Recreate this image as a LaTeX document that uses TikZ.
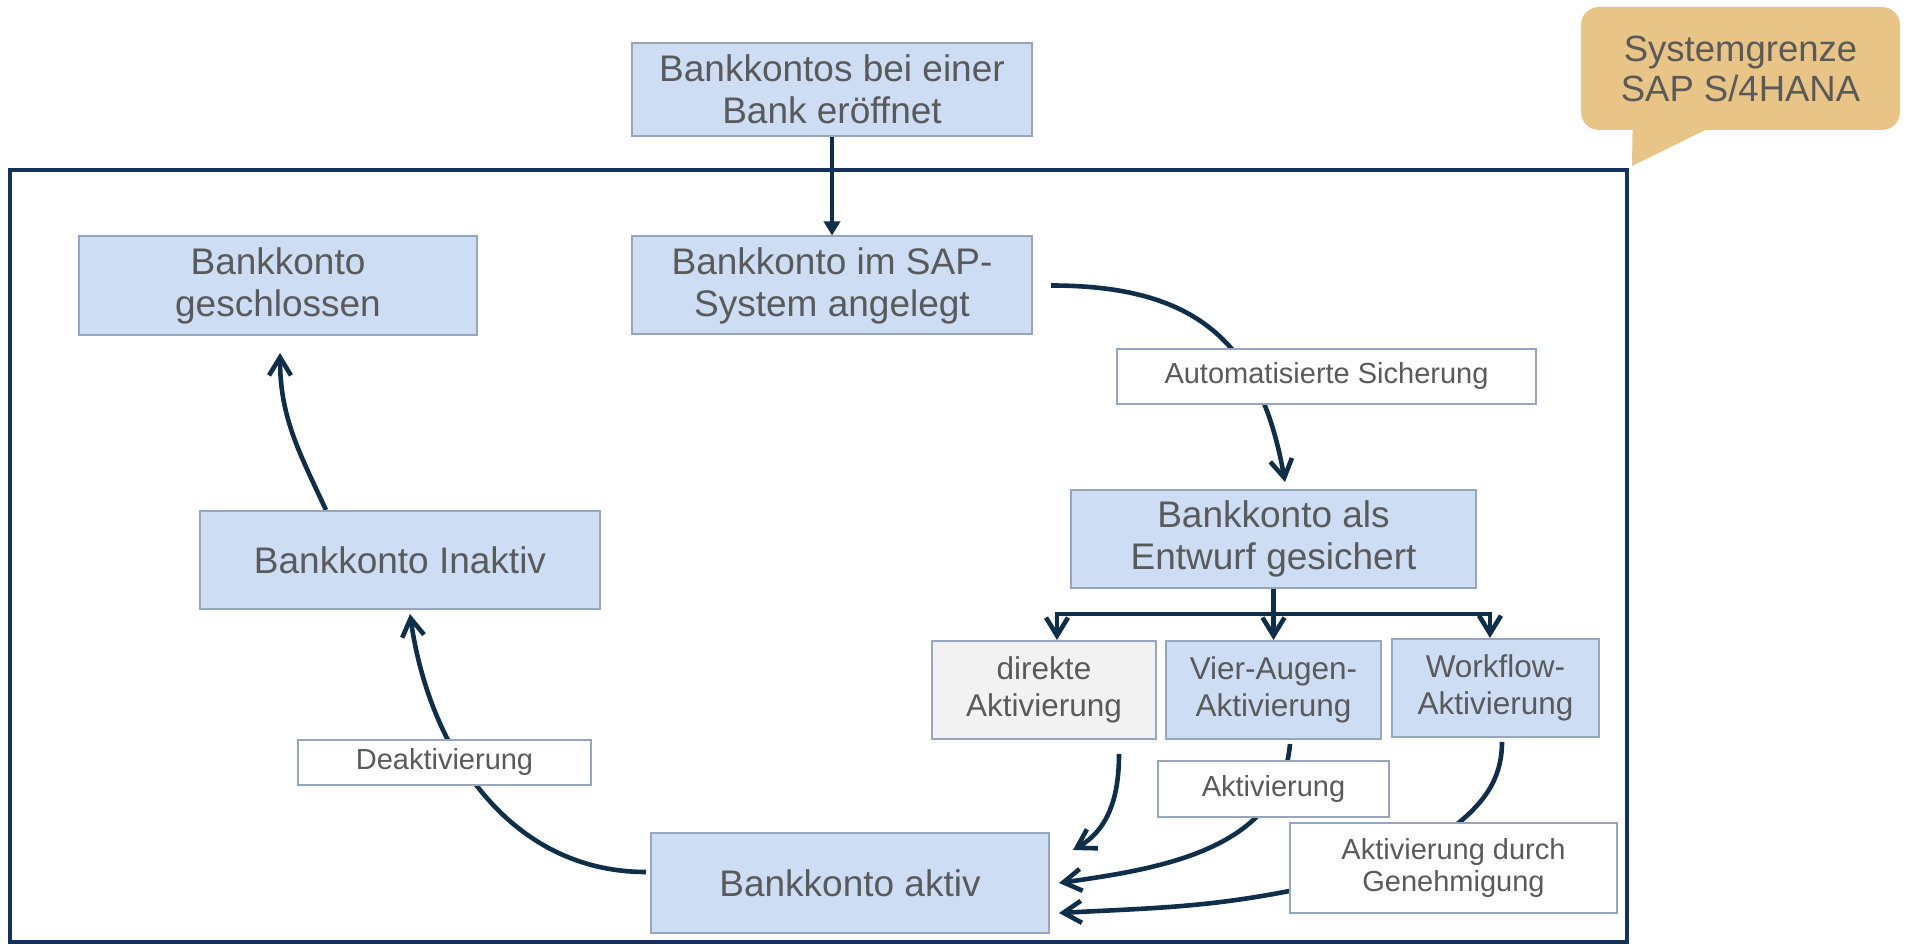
\documentclass[tikz,border=0pt]{standalone}
\usepackage{fontspec}
\setmainfont{Liberation Sans}
\usetikzlibrary{arrows.meta,positioning,backgrounds}

\definecolor{boxblue}{HTML}{CCDDF4}
\definecolor{boxedge}{HTML}{97A6BF}
\definecolor{boxgray}{HTML}{F2F2F2}
\definecolor{txtgray}{HTML}{5A5A5A}
\definecolor{arrownavy}{HTML}{0F2E4A}
\definecolor{framenavy}{HTML}{13335E}
\definecolor{calloutsand}{HTML}{E8C486}

\begin{document}
\begin{tikzpicture}[x=0.5pt,y=-0.5pt,node distance=98pt,
    state/.style={rectangle,draw=boxedge,line width=1pt,fill=boxblue,text=txtgray,align=center,inner sep=0pt,font=\fontsize{18.5}{21}\selectfont},
    choice/.style={state,font=\fontsize{15.75}{18.3}\selectfont},
    tag/.style={state,fill=white,font=\fontsize{14.5}{16}\selectfont},
    flow/.style={draw=arrownavy,line width=2.3pt,-{Straight Barb[length=9pt,width=11pt]}}]

            \useasboundingbox (0,0) rectangle (1908,946);

            \node[draw=framenavy, line width=2pt, minimum width=808.5pt, minimum height=386pt] (frame) at (818.5,556) {};

            \node[state, minimum width=200pt, minimum height=46.5pt] (bank) at (832,89.5) {Bankkontos bei einer\\Bank eröffnet};
            \node[state, minimum width=200pt, minimum height=49pt] (sap) [below of=bank] {Bankkonto im SAP-\\System angelegt};
            \node[state, minimum width=199pt, minimum height=49.5pt] (closed) [left of=sap, xshift=-179] {Bankkonto\\geschlossen};
            \node[state, minimum width=200pt, minimum height=49pt] (inactive) [below of=closed, xshift=61, yshift=-39.25] {Bankkonto Inaktiv};
            \node[state, minimum width=202.5pt, minimum height=49pt] (draft) [below of=sap, xshift=220.75, yshift=-28.75] {Bankkonto als\\Entwurf gesichert};

            \node[choice, minimum width=107.5pt, minimum height=49pt] (four) [below of=draft, yshift=22.5] {Vier-Augen-\\Aktivierung};
            \node[choice, fill=boxgray, minimum width=112pt, minimum height=49pt] (direct) [left of=four, xshift=-16.75] {direkte\\Aktivierung};
            \node[choice, minimum width=103.5pt, minimum height=49pt] (workflow) [right of=four, xshift=13, yshift=1] {Workflow-\\Aktivierung};

            \node[state, minimum width=199pt, minimum height=50pt] (active) [below of=inactive, xshift=225, yshift=-63.5] {Bankkonto aktiv};

            \node[tag, minimum width=209.5pt, minimum height=27.5pt] (lblsave) [right of=sap, xshift=149.25, yshift=-45.5] {Automatisierte Sicherung};
            \node[tag, minimum width=146.5pt, minimum height=22.5pt] (lbldeact) [below of=inactive, xshift=22.25, yshift=-3.25] {Deaktivierung};
            \node[tag, minimum width=115.5pt, minimum height=28pt] (lblact) [below of=four, yshift=48.5] {Aktivierung};
            \node[tag, minimum width=163.5pt, minimum height=45pt] (lblappr) [below of=workflow, xshift=-21, yshift=8] {Aktivierung durch\\Genehmigung};

            \node[fill=calloutsand, rounded corners=9pt, text=txtgray, align=center, minimum width=159.5pt, minimum height=61.5pt, font=\fontsize{18.25}{20}\selectfont] (callout) at (1740.5,68.5) {Systemgrenze\\SAP S/4HANA};
            \fill[calloutsand] ([xshift=26pt,yshift=2pt]callout.south west) -- ([xshift=1.5pt,yshift=1pt]frame.north east) -- ([xshift=66pt,yshift=2pt]callout.south west) -- cycle;

            % connectors go behind the label boxes
            \begin{pgfonlayer}{background}
            \draw[draw=arrownavy, line width=1.7pt, -{Triangle[length=7pt,width=8pt]}] (bank) -- (sap);

            \draw[flow] ([xshift=9pt]sap.east) to[out=0, in=100, looseness=1.2] ([xshift=5.75pt,yshift=3.5pt]draft.north);
            \draw[flow] ([xshift=-37pt]inactive.north) to[out=115, in=-90] ([xshift=1pt,yshift=-8.5pt]closed.south);
            \draw[flow] ([xshift=-2pt,yshift=5.5pt]active.west) to[out=180, in=-82] ([xshift=5pt,yshift=-2pt]inactive.south);

            \draw[flow, -] (draft.south) -- ++(0,25) coordinate (split);
            \draw[flow] (split) -| ([xshift=6.5pt]direct.north);
            \draw[flow] (split) -- (four.north);
            \draw[flow] (split) -| ([xshift=-2.75pt]workflow.north);

            \draw[flow] ([xshift=37.5pt,yshift=-7pt]direct.south) to[out=-90, in=30] ([xshift=11.5pt,yshift=16.5pt]active.east);
            \draw[flow] ([xshift=8.25pt,yshift=-2pt]four.south) to[out=-95, in=8] ([xshift=4.5pt]active.east);
            \draw[flow, -] ([xshift=3.25pt,yshift=-2pt]workflow.south) to[out=-90, in=40] ([xshift=-26.75pt]lblappr.center);
            \draw[flow] ([xshift=10pt,yshift=-9.5pt]lblappr.west) to[out=192, in=3] ([xshift=4.5pt,yshift=-15pt]active.east);
            \end{pgfonlayer}
        \end{tikzpicture}
\end{document}
